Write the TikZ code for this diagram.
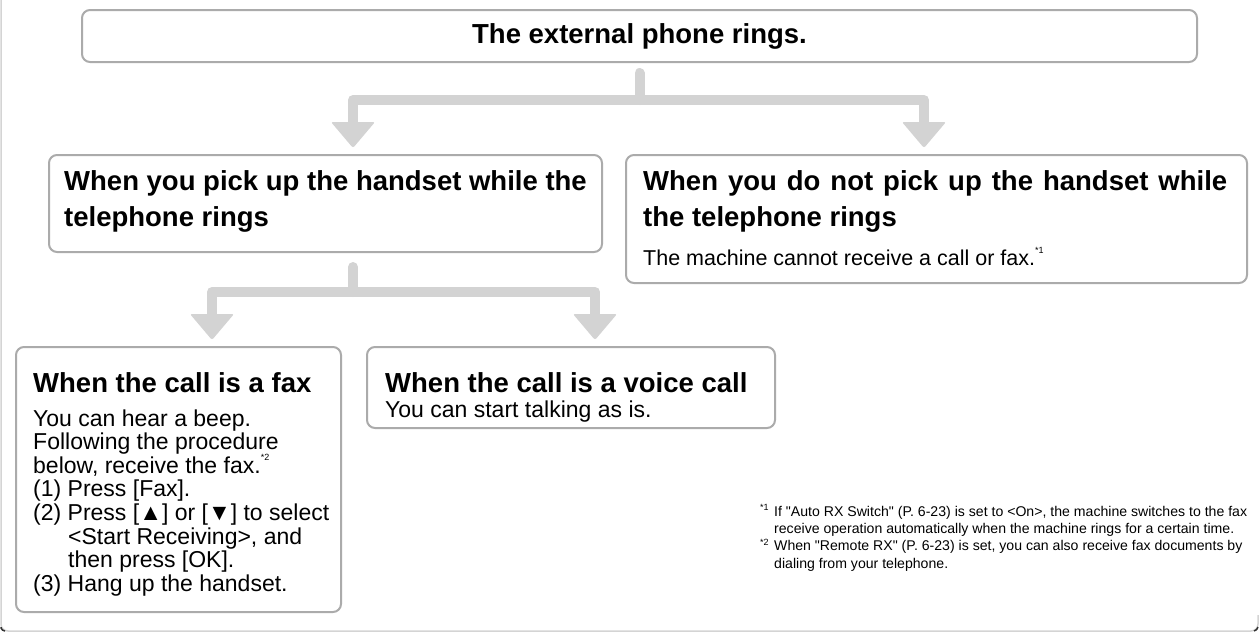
\documentclass[tikz,border=0pt]{standalone}
\usepackage{fontspec}
\setmainfont{Liberation Sans}[Ligatures=TeXOff]
\usetikzlibrary{calc}
\definecolor{boxgray}{HTML}{ABABAB}
\definecolor{conngray}{HTML}{D3D3D3}
\definecolor{framegray}{HTML}{D4D4D4}
\newcommand{\fnmark}[1]{\raisebox{0.55em}{\fontsize{9}{9}\selectfont *#1}}
\begin{document}
\begin{tikzpicture}[x=1pt,y=-1pt,
  box/.style={draw=boxgray, line width=2pt, rounded corners=8pt, fill=white,
    inner sep=0pt, outer sep=0pt, anchor=north west},
  conn/.style={draw=conngray, line width=10pt, line join=round, line cap=round},
  head/.style={fill=conngray, rounded corners=2pt},
  hdr/.style={inner sep=0pt, anchor=base west, font=\fontsize{27.5}{36}\selectfont\bfseries},
  body/.style={inner sep=0pt, anchor=base west, font=\fontsize{23}{23.6}\selectfont},
  fnote/.style={inner sep=0pt, anchor=base west, font=\fontsize{14.1}{17.4}\selectfont},
  fmark/.style={inner sep=0pt, anchor=base west, font=\fontsize{9}{9}\selectfont}]
\useasboundingbox (0,0) rectangle (1259,633);
% outer frame
\draw[framegray, line width=1.5pt, rounded corners=7pt] (1,-2) -- (1,631) -- (1258,631) -- (1258,615);
\draw[black!80, line width=1.5pt] (1,627) to[out=90, in=90, looseness=0] (1,627) -- (1,628) to[bend right=30] (5,631);
\draw[black!80, line width=1.5pt] (1254,631) to[bend right=30] (1258,627);

% boxes
\node[box, minimum width=1115pt, minimum height=52pt] (top) at (82,10) {};
\node[box, minimum width=553pt, minimum height=97pt] (A) at (49,155) {};
\node[box, minimum width=621pt, minimum height=128pt] (B) at (626,155) {};
\node[box, minimum width=325pt, minimum height=265pt] (C) at (16,347) {};
\node[box, minimum width=408pt, minimum height=81pt] (D) at (367,347) {};

% texts
\node[inner sep=0pt, anchor=base, font=\fontsize{27.5}{36}\selectfont\bfseries] (ttop) at (639.5,43) {The external phone rings.};

\node[hdr] (a1) at (64,190) {When you pick up the handset while the};
\node[hdr] (a2) at (64,226) {telephone rings};

\node[hdr] (b1) at (643,190) {\makebox[584pt][s]{When you do not pick up the handset while}};
\node[hdr] (b2) at (643,226) {the telephone rings};
\node[body, font=\fontsize{21.5}{23.6}\selectfont] (b3) at (643,265) {The machine cannot receive a call or fax.\fnmark{1}};

\node[hdr] (c1) at (33,392) {When the call is a fax};
\node[body] (c2) at (33,426) {You can hear a beep.};
\node[body] (c3) at (33,449.6) {Following the procedure};
\node[body] (c4) at (33,473.2) {below, receive the fax.\fnmark{2}};
\node[body] (c5) at (33,496.8) {(1) Press [Fax].};
\node[body] (c6) at (33,520.4) {(2) Press [▲] or [▼] to select};
\node[body] (c7) at (68,544) {<Start Receiving>, and};
\node[body] (c8) at (68,567.6) {then press [OK].};
\node[body] (c9) at (33,591.2) {(3) Hang up the handset.};

\node[hdr] (d1) at (385,392) {When the call is a voice call};
\node[body] (d2) at (385,417) {You can start talking as is.};

% footnotes
\node[fmark] (m1) at (760,510) {*1};
\node[fnote] (f1) at (774,516) {If "Auto RX Switch" (P. 6-23) is set to <On>, the machine switches to the fax};
\node[fnote] (f2) at (774,533.4) {receive operation automatically when the machine rings for a certain time.};
\node[fmark] (m2) at (760,545) {*2};
\node[fnote] (f3) at (774,550.8) {When "Remote RX" (P. 6-23) is set, you can also receive fax documents by};
\node[fnote] (f4) at (774,568.2) {dialing from your telephone.};

% connectors: first split
\coordinate (s1) at ($(top.south)+(0,11)$);
\coordinate (j1) at ($(top.south)+(0,38)$);
\coordinate (tA) at (353,148);
\coordinate (tB) at (924,148);
\draw[conn, line cap=round] (s1) -- (j1);
\draw[conn, line cap=butt] (tA |- 0,123) -- (tA |- j1) -- (tB |- j1) -- (tB |- 0,123);
\fill[head] ($(tA)+(-22,-26)$) -- ($(tA)+(22,-26)$) -- (tA) -- cycle;
\fill[head] ($(tB)+(-22,-26)$) -- ($(tB)+(22,-26)$) -- (tB) -- cycle;

% second split
\coordinate (s2) at ($(A.south west)+(304,15)$);
\coordinate (j2) at (353,292);
\coordinate (tC) at (212,340);
\coordinate (tD) at (595,340);
\draw[conn, line cap=round] (s2) -- (j2);
\draw[conn, line cap=butt] (tC |- 0,315) -- (tC |- j2) -- (tD |- j2) -- (tD |- 0,315);
\fill[head] ($(tC)+(-22,-26)$) -- ($(tC)+(22,-26)$) -- (tC) -- cycle;
\fill[head] ($(tD)+(-22,-26)$) -- ($(tD)+(22,-26)$) -- (tD) -- cycle;
\end{tikzpicture}
\end{document}
